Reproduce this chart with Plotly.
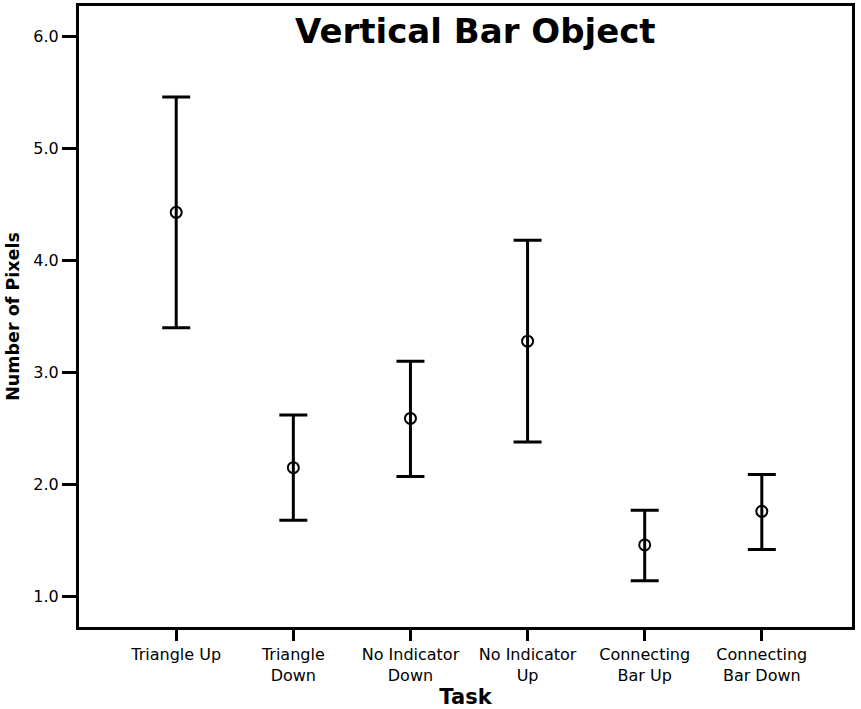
import plotly.graph_objects as go

# Task conditions and their mean / confidence-interval bounds (pixels)
tasks = ["Triangle Up", "Triangle<br>Down", "No Indicator<br>Down", "No Indicator<br>Up",
         "Connecting<br>Bar Up", "Connecting<br>Bar Down"]
means = [4.43, 2.15, 2.59, 3.28, 1.46, 1.76]
upper = [5.46, 2.62, 3.10, 4.18, 1.77, 2.09]
lower = [3.40, 1.68, 2.07, 2.38, 1.14, 1.42]

y_ticks = [1.0, 2.0, 3.0, 4.0, 5.0, 6.0]

err_plus = [u - m for u, m in zip(upper, means)]
err_minus = [m - l for m, l in zip(means, lower)]
xpos = list(range(len(tasks)))

FONT = "DejaVu Sans, Arial, sans-serif"

W, H = 861, 709
ML, MR, MT, MB = 79, 9, 3, 82

fig = go.Figure()
fig.add_trace(go.Scatter(
    x=xpos, y=means, mode="markers",
    marker=dict(symbol="circle-open", size=11, color="black", line=dict(width=2, color="black")),
    error_y=dict(type="data", symmetric=False, array=err_plus, arrayminus=err_minus,
                 color="black", thickness=3, width=14),
    showlegend=False, hoverinfo="skip",
))

fig.update_layout(
    width=W, height=H,
    margin=dict(l=ML, r=MR, t=MT, b=MB),
    paper_bgcolor="white", plot_bgcolor="white",
    font=dict(family=FONT, color="black", size=16),
    annotations=[dict(text="<b>Vertical Bar Object</b>",
                      x=(475 - ML) / (W - ML - MR), y=1 - (28 - MT) / (H - MT - MB),
                      xref="paper", yref="paper", showarrow=False,
                      font=dict(size=34, family=FONT, color="black"),
                      xanchor="center", yanchor="middle")],
)

fig.update_xaxes(
    range=[-0.83, 5.77], tickmode="array", tickvals=xpos, ticktext=tasks,
    showgrid=False, zeroline=False, showline=True, linecolor="black", linewidth=3, mirror=True,
    ticks="outside", ticklen=11, tickwidth=2.5, tickcolor="black",
    tickfont=dict(size=16, family=FONT),
    title=dict(text="<b>Task</b>", font=dict(size=21, family=FONT), standoff=1),
)
fig.update_yaxes(
    range=[0.727, 6.273], tickmode="array", tickvals=y_ticks,
    ticktext=[f"{v:.1f}" for v in y_ticks],
    showgrid=False, zeroline=False, showline=True, linecolor="black", linewidth=3, mirror=True,
    ticks="outside", ticklen=14, tickwidth=2.5, tickcolor="black",
    tickfont=dict(size=16, family=FONT),
    title=dict(text="<b>Number of Pixels</b>", font=dict(size=17.5, family=FONT), standoff=10),
)

fig.write_html("out.html")
